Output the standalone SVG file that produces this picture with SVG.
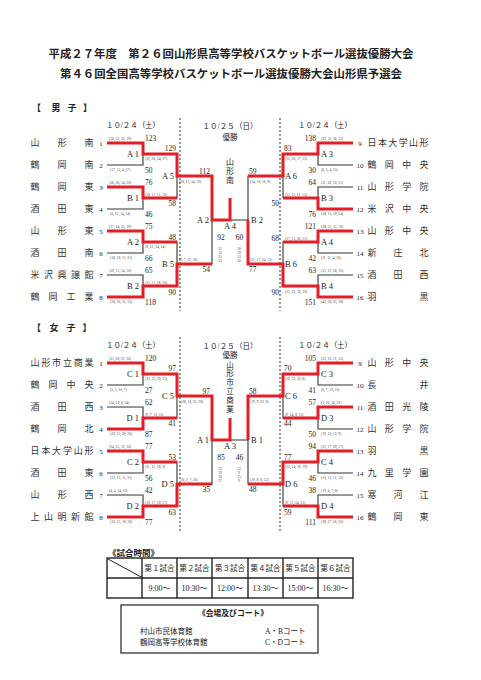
<svg xmlns="http://www.w3.org/2000/svg" width="481" height="680" viewBox="0 0 481 680">
<style>
.k{fill:none;stroke:#333;stroke-width:1.1}
.r{fill:none;stroke:#e41e26;stroke-width:3;stroke-linejoin:miter;stroke-linecap:butt}
.d{fill:none;stroke:#333;stroke-width:1;stroke-dasharray:2 2}
.tb{fill:none;stroke:#222;stroke-width:1.4}
text{font-family:"Liberation Serif","Noto Sans CJK JP",serif;fill:#222}
.nm{font-size:9px;text-anchor:middle;fill:#333}
.no{font-size:7px;text-anchor:middle}
.sc{font-size:7.5px}
.e{text-anchor:end}
.m{text-anchor:middle}
.q{font-size:3.6px;fill:#444}
.lb{font-size:8.5px}
.dt{font-size:7.5px;text-anchor:middle}
.hd{font-family:"Noto Sans CJK JP",sans-serif;font-weight:bold}
</style>
<rect x="0" y="0" width="481" height="680" fill="#fff"/>
<g id="title">
<text class="hd" x="231" y="58" font-size="11.2" text-anchor="middle" textLength="365" lengthAdjust="spacingAndGlyphs">平成２７年度　第２６回山形県高等学校バスケットボール選抜優勝大会</text>
<text class="hd" x="231" y="78" font-size="11.2" text-anchor="middle" textLength="342" lengthAdjust="spacingAndGlyphs">第４６回全国高等学校バスケットボール選抜優勝大会山形県予選会</text>
</g>
<!-- ================= MEN ================= -->
<g id="men-head">
<text class="hd" x="36.5 56 72 87.5" y="110.5" font-size="9" text-anchor="middle">【男子】</text>
<text class="dt" x="133" y="128" textLength="54">１０/２４（土）</text>
<text class="dt" x="230" y="129" textLength="55">１０/２５（日）</text>
<text class="dt" x="325" y="128" textLength="54">１０/２４（土）</text>
<text class="dt" x="230" y="140">優勝</text>
<text x="230" y="164.5" font-size="8" text-anchor="middle">山</text>
<text x="230" y="173.5" font-size="8" text-anchor="middle">形</text>
<text x="230" y="182.5" font-size="8" text-anchor="middle">南</text>
</g>
<g id="men-connectors">
<line class="d" x1="180" y1="118" x2="180" y2="311"/>
<line class="d" x1="280" y1="118" x2="280" y2="311"/>
<path class="k" d="M107,143H143V165H107M107,187H143V209H107M107,231H143V253H107M107,275H143V297H107"/>
<path class="k" d="M143,154H177V198H143M143,242H177V286H143M177,176H212V264H177M212,220H248M230,220V198"/>
<path class="k" d="M283,176H248V264H283M317,154H283V198H317M317,242H283V286H317"/>
<path class="k" d="M353,143H318V165H353M353,187H318V209H353M353,231H318V253H353M353,275H318V297H353"/>
<path class="r" d="M107,143H143V154H177V176H212V220H230V198"/>
<path class="r" d="M107,187H143V198H177"/>
<path class="r" d="M107,231H143V242H177"/>
<path class="r" d="M107,297H143V286H177V264H212"/>
<path class="r" d="M353,143H318V154H283V176H248"/>
<path class="r" d="M353,209H318V198H283"/>
<path class="r" d="M353,231H318V242H283"/>
<path class="r" d="M353,297H318V286H283V264H248V220"/>
</g>
<g id="men-teams">
<g id="m1"><text class="nm" x="35 62 89" y="146.4">山形南</text><text class="no" x="101" y="145.5">1</text></g>
<g id="m2"><text class="nm" x="35 62 89" y="168.4">鶴岡南</text><text class="no" x="101" y="167.5">2</text></g>
<g id="m3"><text class="nm" x="35 62 89" y="190.4">鶴岡東</text><text class="no" x="101" y="189.5">3</text></g>
<g id="m4"><text class="nm" x="35 62 89" y="212.4">酒田東</text><text class="no" x="101" y="211.5">4</text></g>
<g id="m5"><text class="nm" x="35 62 89" y="234.4">山形東</text><text class="no" x="101" y="233.5">5</text></g>
<g id="m6"><text class="nm" x="35 62 89" y="256.4">酒田南</text><text class="no" x="101" y="255.5">6</text></g>
<g id="m7"><text class="nm" x="35 48.5 62 75.5 89" y="278.4">米沢興譲館</text><text class="no" x="101" y="277.5">7</text></g>
<g id="m8"><text class="nm" x="35 53 71 89" y="300.4">鶴岡工業</text><text class="no" x="101" y="299.5">8</text></g>
<g id="m9"><text class="no" x="360" y="145.5">9</text><text class="nm" x="372 382.4 392.8 403.2 413.6 424" y="146.4">日本大学山形</text></g>
<g id="m10"><text class="no" x="360" y="167.5">10</text><text class="nm" x="372 389.3 406.7 424" y="168.4">鶴岡中央</text></g>
<g id="m11"><text class="no" x="360" y="189.5">11</text><text class="nm" x="372 389.3 406.7 424" y="190.4">山形学院</text></g>
<g id="m12"><text class="no" x="360" y="211.5">12</text><text class="nm" x="372 389.3 406.7 424" y="212.4">米沢中央</text></g>
<g id="m13"><text class="no" x="360" y="233.5">13</text><text class="nm" x="372 389.3 406.7 424" y="234.4">山形中央</text></g>
<g id="m14"><text class="no" x="360" y="255.5">14</text><text class="nm" x="372 398 424" y="256.4">新庄北</text></g>
<g id="m15"><text class="no" x="360" y="277.5">15</text><text class="nm" x="372 398 424" y="278.4">酒田西</text></g>
<g id="m16"><text class="no" x="360" y="299.5">16</text><text class="nm" x="372 424" y="300.4">羽黒</text></g>
</g>
<g id="men-matches">
<g id="mA1"><text class="lb e" x="139" y="157">A 1</text><text class="sc" x="145" y="140.5">123</text><text class="q" x="109" y="140">(36, 33, 35, 19)</text><text class="sc" x="145" y="172.5">50</text><text class="q" x="110" y="171">(17, 12, 4, 17)</text></g>
<g id="mB1"><text class="lb e" x="139" y="201">B 1</text><text class="sc" x="145" y="184.5">76</text><text class="q" x="109" y="184">(16, 26, 14, 20)</text><text class="sc" x="145" y="216.5">46</text><text class="q" x="110" y="215">(6, 12, 14, 14)</text></g>
<g id="mA2a"><text class="lb e" x="139" y="245">A 2</text><text class="sc" x="145" y="228.5">75</text><text class="q" x="109" y="228">(17, 14, 25, 19)</text><text class="sc" x="145" y="260.5">66</text><text class="q" x="110" y="259">(16, 18, 11, 21)</text></g>
<g id="mB2a"><text class="lb e" x="139" y="289">B 2</text><text class="sc" x="145" y="272.5">65</text><text class="q" x="109" y="272">(18, 15, 14, 18)</text><text class="sc" x="145" y="304.5">118</text><text class="q" x="110" y="303">(28, 26, 31, 33)</text></g>
<g id="mA5"><text class="lb e" x="174" y="179">A 5</text><text class="sc e" x="176" y="150.5">129</text><text class="q" x="145" y="160">(32, 26, 34, 37)</text><text class="sc e" x="176" y="205.5">58</text><text class="q" x="145" y="195.5">(18, 17, 11, 12)</text></g>
<g id="mB5"><text class="lb e" x="174" y="267">B 5</text><text class="sc e" x="176" y="239.5">48</text><text class="q" x="145" y="248">(8, 12, 14, 14)</text><text class="sc e" x="176" y="294.5">90</text><text class="q" x="145" y="283.5">(21, 21, 28, 20)</text></g>
<g id="mA2"><text class="lb e" x="209" y="223">A 2</text><text class="sc e" x="210" y="173.5">112</text><text class="q" x="179" y="183">(28, 31, 34, 19)</text><text class="sc e" x="210" y="271.5">54</text><text class="q" x="179" y="261">(9, 7, 22, 16)</text></g>
<g id="mA4"><text class="lb m" x="230" y="229">A 4</text><text class="sc m" x="221" y="240">92</text><text class="sc m" x="239.5" y="240">60</text>
<text class="q m" x="220" y="250">21</text><text class="q m" x="220" y="254">23</text><text class="q m" x="220" y="258">25</text><text class="q m" x="220" y="262">23</text>
<text class="q m" x="239" y="250">18</text><text class="q m" x="239" y="254">19</text><text class="q m" x="239" y="258">13</text><text class="q m" x="239" y="262">10</text></g>
<g id="mB2"><text class="lb" x="251" y="223">B 2</text><text class="sc" x="249" y="173.5">59</text><text class="q" x="250" y="183">(14, 18, 18, 9)</text><text class="sc" x="249" y="271.5">77</text><text class="q" x="250" y="261">(21, 17, 24, 15)</text></g>
<g id="mA6"><text class="lb" x="285" y="179">A 6</text><text class="sc" x="284" y="150.5">83</text><text class="q" x="285" y="160">(15, 26, 17, 25)</text><text class="sc e" x="279" y="205.5">50</text><text class="q" x="285" y="195.5">(13, 11, 11, 15)</text></g>
<g id="mB6"><text class="lb" x="285" y="267">B 6</text><text class="sc e" x="279" y="240.5">68</text><text class="q" x="285" y="240">(17, 13, 26, 12)</text><text class="sc e" x="279" y="294.5">90</text><text class="q" x="285" y="293">(31, 22, 18, 19)</text></g>
<g id="mA3"><text class="lb" x="321" y="157">A 3</text><text class="sc e" x="316" y="140.5">138</text><text class="q" x="321" y="140">(39, 32, 36, 31)</text><text class="sc e" x="316" y="172.5">30</text><text class="q" x="321" y="171">(6, 5, 4, 15)</text></g>
<g id="mB3"><text class="lb" x="321" y="201">B 3</text><text class="sc e" x="316" y="184.5">64</text><text class="q" x="321" y="184">(11, 26, 16, 11)</text><text class="sc e" x="316" y="216.5">76</text><text class="q" x="321" y="215">(18, 15, 19, 24)</text></g>
<g id="mA4r"><text class="lb" x="321" y="245">A 4</text><text class="sc e" x="316" y="228.5">121</text><text class="q" x="321" y="228">(38, 32, 33, 18)</text><text class="sc e" x="316" y="260.5">42</text><text class="q" x="321" y="259">(11, 11, 4, 16)</text></g>
<g id="mB4"><text class="lb" x="321" y="289">B 4</text><text class="sc e" x="316" y="272.5">63</text><text class="q" x="321" y="272">(15, 12, 26, 10)</text><text class="sc e" x="316" y="304.5">151</text><text class="q" x="321" y="303">(42, 36, 35, 38)</text></g>
</g>
<!-- ================= WOMEN ================= -->
<g id="women-head">
<text class="hd" x="36.5 54 71 87" y="330.5" font-size="9" text-anchor="middle">【女子】</text>
<text class="dt" x="133" y="348" textLength="54">１０/２４（土）</text>
<text class="dt" x="230" y="349" textLength="55">１０/２５（日）</text>
<text class="dt" x="325" y="348" textLength="54">１０/２４（土）</text>
<text class="dt" x="230" y="358.3">優勝</text>
<text x="230" y="367.5" font-size="7.5" text-anchor="middle">山</text>
<text x="230" y="376.3" font-size="7.5" text-anchor="middle">形</text>
<text x="230" y="385.1" font-size="7.5" text-anchor="middle">市</text>
<text x="230" y="393.9" font-size="7.5" text-anchor="middle">立</text>
<text x="230" y="402.7" font-size="7.5" text-anchor="middle">商</text>
<text x="230" y="411.5" font-size="7.5" text-anchor="middle">業</text>
</g>
<g id="women-connectors">
<line class="d" x1="180" y1="337" x2="180" y2="531"/>
<line class="d" x1="280" y1="337" x2="280" y2="531"/>
<path class="k" d="M107,363H143V385H107M107,407H143V429H107M107,451H143V473H107M107,495H143V517H107"/>
<path class="k" d="M143,374H177V418H143M143,462H177V506H143M177,396H212V484H177M212,440H248M230,440V418"/>
<path class="k" d="M283,396H248V484H283M317,374H283V418H317M317,462H283V506H317"/>
<path class="k" d="M353,363H318V385H353M353,407H318V429H353M353,451H318V473H353M353,495H318V517H353"/>
<path class="r" d="M107,363H143V374H177V396H212V440H230V418"/>
<path class="r" d="M107,429H143V418H177"/>
<path class="r" d="M107,451H143V462H177"/>
<path class="r" d="M107,517H143V506H177V484H212"/>
<path class="r" d="M353,363H318V374H283V396H248V440"/>
<path class="r" d="M353,407H318V418H283"/>
<path class="r" d="M353,451H318V462H283V484H248"/>
<path class="r" d="M353,517H318V506H283"/>
</g>
<g id="women-teams">
<g id="w1"><text class="nm" x="35 45.8 56.6 67.4 78.2 89" y="366.4">山形市立商業</text><text class="no" x="101" y="365.5">1</text></g>
<g id="w2"><text class="nm" x="35 53 71 89" y="388.4">鶴岡中央</text><text class="no" x="101" y="387.5">2</text></g>
<g id="w3"><text class="nm" x="35 62 89" y="410.4">酒田西</text><text class="no" x="101" y="409.5">3</text></g>
<g id="w4"><text class="nm" x="35 62 89" y="432.4">鶴岡北</text><text class="no" x="101" y="431.5">4</text></g>
<g id="w5"><text class="nm" x="35 45.8 56.6 67.4 78.2 89" y="454.4">日本大学山形</text><text class="no" x="101" y="453.5">5</text></g>
<g id="w6"><text class="nm" x="35 62 89" y="476.4">酒田東</text><text class="no" x="101" y="475.5">6</text></g>
<g id="w7"><text class="nm" x="35 62 89" y="498.4">山形西</text><text class="no" x="101" y="497.5">7</text></g>
<g id="w8"><text class="nm" x="35 48.5 62 75.5 89" y="520.4">上山明新館</text><text class="no" x="101" y="519.5">8</text></g>
<g id="w9"><text class="no" x="360" y="365.5">9</text><text class="nm" x="372 389.3 406.7 424" y="366.4">山形中央</text></g>
<g id="w10"><text class="no" x="360" y="387.5">10</text><text class="nm" x="372 424" y="388.4">長井</text></g>
<g id="w11"><text class="no" x="360" y="409.5">11</text><text class="nm" x="372 389.3 406.7 424" y="410.4">酒田光陵</text></g>
<g id="w12"><text class="no" x="360" y="431.5">12</text><text class="nm" x="372 389.3 406.7 424" y="432.4">山形学院</text></g>
<g id="w13"><text class="no" x="360" y="453.5">13</text><text class="nm" x="372 424" y="454.4">羽黒</text></g>
<g id="w14"><text class="no" x="360" y="475.5">14</text><text class="nm" x="372 389.3 406.7 424" y="476.4">九里学園</text></g>
<g id="w15"><text class="no" x="360" y="497.5">15</text><text class="nm" x="372 398 424" y="498.4">寒河江</text></g>
<g id="w16"><text class="no" x="360" y="519.5">16</text><text class="nm" x="372 398 424" y="520.4">鶴岡東</text></g>
</g>
<g id="women-matches">
<g id="wC1"><text class="lb e" x="139" y="377">C 1</text><text class="sc" x="145" y="360.5">120</text><text class="q" x="109" y="360">(31, 28, 25, 36)</text><text class="sc" x="145" y="392.5">27</text><text class="q" x="110" y="391">(5, 5, 10, 7)</text></g>
<g id="wD1"><text class="lb e" x="139" y="421">D 1</text><text class="sc" x="145" y="404.5">62</text><text class="q" x="109" y="404">(14, 18, 6, 24)</text><text class="sc" x="145" y="436.5">87</text><text class="q" x="110" y="435">(20, 13, 28, 26)</text></g>
<g id="wC2"><text class="lb e" x="139" y="465">C 2</text><text class="sc" x="145" y="448.5">77</text><text class="q" x="109" y="448">(24, 25, 12, 16)</text><text class="sc" x="145" y="480.5">56</text><text class="q" x="110" y="479">(12, 12, 11, 21)</text></g>
<g id="wD2"><text class="lb e" x="139" y="509">D 2</text><text class="sc" x="145" y="492.5">42</text><text class="q" x="109" y="492">(4, 4, 24, 10)</text><text class="sc" x="145" y="524.5">77</text><text class="q" x="110" y="523">(16, 25, 18, 18)</text></g>
<g id="wC5"><text class="lb e" x="174" y="399">C 5</text><text class="sc e" x="176" y="370.5">97</text><text class="q" x="145" y="380">(23, 32, 29, 13)</text><text class="sc e" x="176" y="425.5">41</text><text class="q" x="145" y="415.5">(9, 7, 10, 15)</text></g>
<g id="wD5"><text class="lb e" x="174" y="487">D 5</text><text class="sc e" x="176" y="459.5">53</text><text class="q" x="145" y="468">(11, 15, 18, 9)</text><text class="sc e" x="176" y="514.5">63</text><text class="q" x="145" y="503.5">(10, 17, 19, 17)</text></g>
<g id="wA1"><text class="lb e" x="209" y="443">A 1</text><text class="sc e" x="210" y="393.5">97</text><text class="q" x="181" y="403">(28, 16, 25, 28)</text><text class="sc e" x="210" y="491.5">35</text><text class="q" x="181" y="481">(6, 2, 7, 20)</text></g>
<g id="wA3"><text class="lb m" x="230" y="449">A 3</text><text class="sc m" x="221" y="460">85</text><text class="sc m" x="239.5" y="460">46</text>
<text class="q m" x="220" y="470">23</text><text class="q m" x="220" y="474">19</text><text class="q m" x="220" y="478">16</text><text class="q m" x="220" y="482">27</text>
<text class="q m" x="239" y="470">13</text><text class="q m" x="239" y="474">9</text><text class="q m" x="239" y="478">15</text><text class="q m" x="239" y="482">9</text></g>
<g id="wB1"><text class="lb" x="251" y="443">B 1</text><text class="sc" x="249" y="393.5">58</text><text class="q" x="250" y="403">(19, 9, 22, 8)</text><text class="sc" x="249" y="491.5">48</text><text class="q" x="250" y="481">(19, 8, 8, 13)</text></g>
<g id="wC6"><text class="lb" x="285" y="399">C 6</text><text class="sc" x="284" y="370.5">70</text><text class="q" x="285" y="380">(19, 23, 20, 8)</text><text class="sc" x="284" y="425.5">44</text><text class="q" x="285" y="415.5">(9, 14, 8, 13)</text></g>
<g id="wD6"><text class="lb" x="285" y="487">D 6</text><text class="sc" x="284" y="459.5">77</text><text class="q" x="285" y="468">(25, 14, 19, 19)</text><text class="sc" x="284" y="514.5">59</text><text class="q" x="285" y="503.5">(9, 11, 24, 15)</text></g>
<g id="wC3"><text class="lb" x="321" y="377">C 3</text><text class="sc e" x="316" y="360.5">105</text><text class="q" x="321" y="360">(33, 16, 21, 35)</text><text class="sc e" x="316" y="392.5">41</text><text class="q" x="321" y="391">(6, 7, 13, 15)</text></g>
<g id="wD3"><text class="lb" x="321" y="421">D 3</text><text class="sc e" x="316" y="404.5">57</text><text class="q" x="321" y="404">(3, 16, 16, 22)</text><text class="sc e" x="316" y="436.5">50</text><text class="q" x="321" y="435">(19, 10, 12, 9)</text></g>
<g id="wC4"><text class="lb" x="321" y="465">C 4</text><text class="sc e" x="316" y="448.5">94</text><text class="q" x="321" y="448">(31, 17, 29, 17)</text><text class="sc e" x="316" y="480.5">46</text><text class="q" x="321" y="479">(10, 12, 12, 12)</text></g>
<g id="wD4"><text class="lb" x="321" y="509">D 4</text><text class="sc e" x="316" y="492.5">38</text><text class="q" x="321" y="492">(19, 4, 7, 8)</text><text class="sc e" x="316" y="524.5">111</text><text class="q" x="321" y="523">(28, 27, 26, 30)</text></g>
</g>
<!-- ================= TIMES ================= -->
<g id="schedule">
<text class="hd" x="108" y="556" font-size="8.5">《試合時間》</text>
<rect class="tb" x="107" y="558" width="246" height="40"/>
<path class="tb" d="M107,578H353M142,558V598M177,558V598M212,558V598M248,558V598M283,558V598M318,558V598"/>
<line x1="108" y1="559" x2="142" y2="577.5" stroke="#222" stroke-width="1"/>
<g font-size="7.5" text-anchor="middle">
<text x="159.5" y="571">第１試合</text><text x="194.5" y="571">第２試合</text><text x="230" y="571">第３試合</text><text x="265.5" y="571">第４試合</text><text x="300.5" y="571">第５試合</text><text x="335.5" y="571">第６試合</text>
</g>
<g font-size="8" text-anchor="middle">
<text x="159.5" y="591">9:00～</text><text x="194.5" y="591">10:30～</text><text x="230" y="591">12:00～</text><text x="265.5" y="591">13:30～</text><text x="300.5" y="591">15:00～</text><text x="335.5" y="591">16:30～</text>
</g>
</g>
<g id="venues">
<rect x="121" y="605" width="197" height="48" fill="none" stroke="#222" stroke-width="1.2"/>
<text class="hd" x="233" y="615.5" font-size="7.8" text-anchor="middle">《会場及びコート》</text>
<text x="140" y="634" font-size="7.5">村山市民体育館</text>
<text x="140" y="645" font-size="7.5">鶴岡高等学校体育館</text>
<text x="265" y="634" font-size="7.5">A・Bコート</text>
<text x="265" y="645" font-size="7.5">C・Dコート</text>
</g>
</svg>
